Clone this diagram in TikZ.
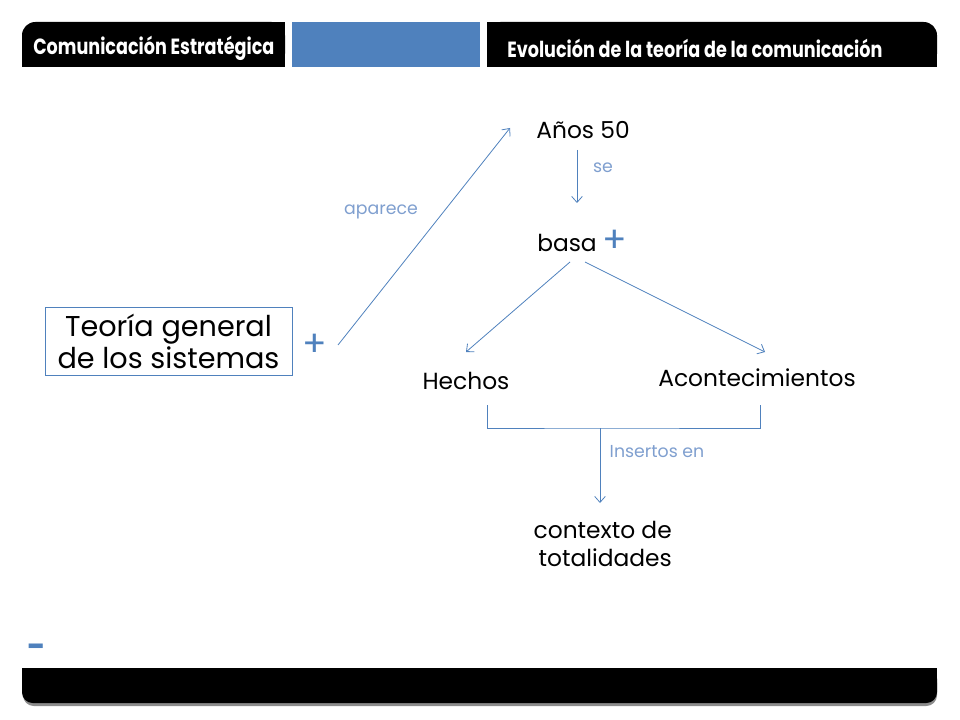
\documentclass[tikz,border=0pt]{standalone}
\usepackage{fontspec}
\setmainfont{Poppins}
\newfontfamily\headfont[FakeStretch=0.8]{Poppins}
\usetikzlibrary{arrows.meta, positioning}
\definecolor{ofblue}{HTML}{4F81BD}
\definecolor{lblue}{HTML}{7F9FCF}

\begin{document}
\begin{tikzpicture}[x=0.75pt,y=-0.75pt,
  conn/.style={ofblue, line width=0.6pt, -{Straight Barb[length=4.5pt,width=8pt]}},
  txt/.style={font=\fontsize{17.5}{21}\selectfont, inner sep=0pt},
  big/.style={font=\fontsize{21.5}{24}\selectfont, align=center},
  lbl/.style={lblue, font=\fontsize{13}{15}\selectfont, inner sep=0pt},
  pluss/.style={ofblue, font=\fontsize{27}{27}\selectfont, inner sep=0pt},
  headtxt/.style={white, anchor=west, inner sep=0pt, font=\headfont\bfseries\fontsize{16.5}{18}\selectfont}]
\useasboundingbox (0,0) rectangle (960,720);

% header bars
\fill[rounded corners=10] (22,22) rectangle (285,67);
\fill (60,22) rectangle (285,67);
\fill (22,45) rectangle (285,67);
\fill[ofblue] (292,22) rectangle (480,67);
\fill[rounded corners=10] (487,22) rectangle (937,67);
\fill (487,22) rectangle (900,67);
\fill (487,45) rectangle (937,67);
\node[headtxt] (hleft) at (33,48) {Comunicación Estratégica};
\node[headtxt] (hright) at (507,48) {Evolución de la teoría de la comunicación};

% footer bar
\fill[black!45, rounded corners=8] (23,672) rectangle (937,706);
\fill[rounded corners=8] (22,668) rectangle (937,703);
\fill (22,668) rectangle (937,685);
\node[pluss, font=\fontsize{24}{24}\selectfont\bfseries] (minus) at (37,651) {-};

% nodes
\node[draw=ofblue, big, minimum width=185pt, minimum height=51pt] (tgs) at (168.5,341) {Teoría general\\de los sistemas};
\node[pluss] (plus1) at (315,345) {+};
\node[txt] (anos) at (583,130) {Años 50};
\node[txt] (basa) at (567,243) {basa};
\node[pluss] (plus2) at (615,241) {+};
\node[txt] (hechos) at (466,381) {Hechos};
\node[txt] (acont) at (757,378) {Acontecimientos};
\node[txt, align=right, anchor=east] (ctx) at (672,544) {contexto de\\totalidades};

% connector ends
\coordinate (apTail) at (338,345);
\coordinate (apHead) at (510,128);
\coordinate (seTop) at (577,150);
\coordinate (seHead) at (577,203);
\coordinate (baL) at (570,262);
\coordinate (baR) at (585,262);
\coordinate (heHead) at (466,352);
\coordinate (acHead) at (765,352);
\coordinate (brL) at (487,405);
\coordinate (brR) at (760,405);
\coordinate (brMid) at (600,428);
\coordinate (inHead) at (600,503);

% connectors
\draw[conn] (apTail) -- (apHead);
\draw[conn] (seTop) -- (seHead);
\draw[conn] (baL) -- (heHead);
\draw[conn] (baR) -- (acHead);
\draw[ofblue, line width=0.6pt] (brL) |- (brMid) -| (brR);
\draw[conn] (brMid) -- (inHead);

% labels
\node[lbl] (aparece) at (381,212) {aparece};
\node[lbl] (se) at (603,168) {se};
\node[lbl] (insertos) at (657,452) {Insertos en};
\end{tikzpicture}
\end{document}
